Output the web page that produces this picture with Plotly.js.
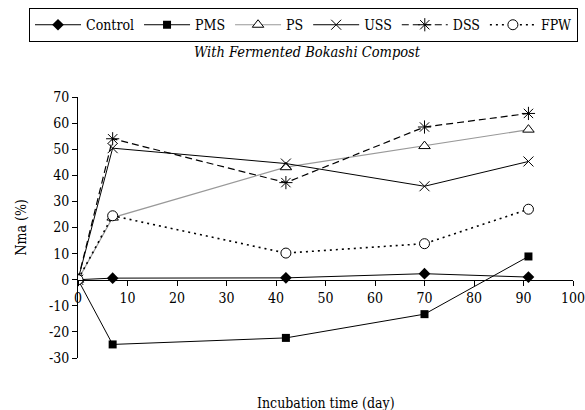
<!DOCTYPE html>
<html>
<head>
<meta charset="utf-8">
<script src="https://cdn.plot.ly/plotly-3.0.1.min.js"></script>
<style>html,body{margin:0;padding:0;background:#fff;}#chart{width:585px;height:410px;}</style>
</head>
<body>
<div id="chart"></div>
<script>
var days = [0, 7, 42, 70, 91];
var control = [0, 0.6, 0.7, 2.3, 1.0];
var pms = [0, -24.8, -22.3, -13.2, 8.9];
var ps = [0, 23.8, 43.1, 51.2, 57.5];
var uss = [0, 50.4, 44.5, 35.8, 45.3];
var dss = [0, 54.0, 37.2, 58.5, 63.7];
var fpw = [0, 24.5, 10.2, 13.8, 27.0];
var xTicks = [0, 10, 20, 30, 40, 50, 60, 70, 80, 90, 100];
var yTicks = [-30, -20, -10, 0, 10, 20, 30, 40, 50, 60, 70];

var FONT = 'DejaVu Serif Condensed, DejaVu Serif';

var traces = [
  {x: days, y: control, name: 'Control', mode: 'lines+markers',
   line: {color: '#000', width: 1},
   marker: {symbol: 'diamond', size: 9, color: '#000'}},
  {x: days, y: pms, name: 'PMS', mode: 'lines+markers',
   line: {color: '#000', width: 1},
   marker: {symbol: 'square', size: 8, color: '#000'}},
  {x: days, y: ps, name: 'PS', mode: 'lines+markers',
   line: {color: '#999', width: 1.2},
   marker: {symbol: 'triangle-up', size: 10, color: '#fff', line: {color: '#000', width: 1}}},
  {x: days, y: uss, name: 'USS', mode: 'lines+markers',
   line: {color: '#000', width: 1},
   marker: {symbol: 'x-thin-open', size: 10, color: '#000', line: {color: '#000', width: 1}}},
  {x: days, y: dss, name: 'DSS', mode: 'lines+markers',
   line: {color: '#000', width: 1.2, dash: '7px,4px'},
   marker: {symbol: 'asterisk-open', size: 11, color: '#000', line: {color: '#000', width: 1}}},
  {x: days, y: fpw, name: 'FPW', mode: 'lines+markers',
   line: {color: '#000', width: 1.6, dash: '2px,4px'},
   marker: {symbol: 'circle', size: 10, color: '#fff', line: {color: '#000', width: 1}}}
];

var layout = {
  width: 585, height: 410,
  paper_bgcolor: '#fff', plot_bgcolor: '#fff',
  margin: {l: 78, r: 12, t: 97, b: 52, pad: 0, autoexpand: false},
  font: {family: FONT, size: 14, color: '#000'},
  showlegend: true,
  title: {text: 'With Fermented Bokashi Compost', xref: 'container', yref: 'container',
          x: 307 / 585, y: 1 - 52 / 410, xanchor: 'center', yanchor: 'middle',
          font: {family: FONT, size: 14.5, style: 'italic', color: '#000'}},
  legend: {orientation: 'h', xref: 'paper', yref: 'paper',
           x: (29 - 78) / 495, y: 1 + (97 - 8) / 261.4, xanchor: 'left', yanchor: 'top',
           bordercolor: '#000', borderwidth: 1, bgcolor: '#fff',
           itemwidth: 46, tracegroupgap: 0,
           font: {family: FONT, size: 14, color: '#000'}},
  xaxis: {range: [0, 100], tickvals: xTicks, ticktext: xTicks.map(String),
          anchor: 'free', position: 0.3, ticklabeloverflow: 'allow',
          showline: true, linecolor: '#000', linewidth: 1,
          ticks: 'outside', ticklen: 5, tickcolor: '#000', tickwidth: 1,
          showgrid: false, zeroline: false,
          tickfont: {family: FONT, size: 14, color: '#000'}},
  yaxis: {range: [-30, 70], tickvals: yTicks, ticktext: yTicks.map(String),
          showline: true, linecolor: '#000', linewidth: 1,
          ticks: 'outside', ticklen: 5, tickcolor: '#000', tickwidth: 1,
          showgrid: false, zeroline: false,
          tickfont: {family: FONT, size: 14, color: '#000'}},
  annotations: [
    {text: 'Incubation time (day)', xref: 'paper', yref: 'paper',
     x: 0.5, y: (358.4 - 403) / 261.4, xanchor: 'center', yanchor: 'middle',
     showarrow: false, font: {family: FONT, size: 14, color: '#000'}},
    {text: 'Nma (%)', xref: 'paper', yref: 'paper', textangle: -90,
     x: (20 - 78) / 495, y: 0.5, xanchor: 'center', yanchor: 'middle',
     showarrow: false, font: {family: FONT, size: 14, color: '#000'}}
  ]
};

Plotly.newPlot('chart', traces, layout, {displayModeBar: false, staticPlot: true});
</script>
</body>
</html>
